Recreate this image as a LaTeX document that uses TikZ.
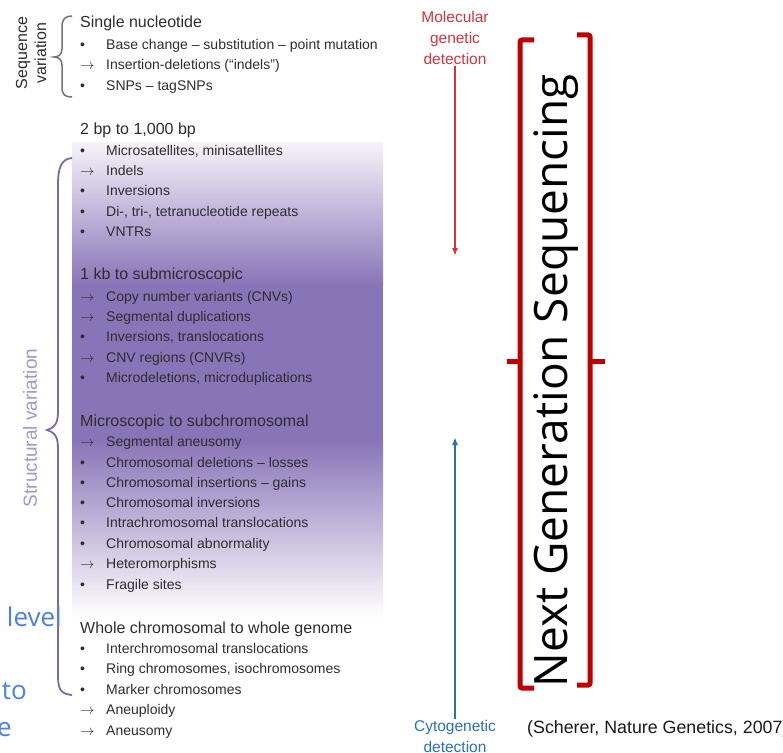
\documentclass[tikz,border=0pt]{standalone}
\usepackage{fontspec}
\setmainfont{Liberation Sans}
\newfontfamily\ngsfont{Open Sans}
\usetikzlibrary{arrows.meta}
\definecolor{ngsred}{RGB}{192,0,0}
\definecolor{molred}{RGB}{214,52,60}
\definecolor{cytoblue}{RGB}{40,112,184}
\definecolor{svpurple}{RGB}{138,116,184}
\definecolor{bracepurple}{RGB}{122,106,168}
\definecolor{labelpurple}{RGB}{165,150,200}
\definecolor{slideblue}{RGB}{74,128,232}
\definecolor{textgray}{RGB}{45,45,45}

\begin{document}
\begin{tikzpicture}[x=1pt, y=-1pt, >={Latex[length=8pt, width=6pt]},
    head/.style={anchor=base west, inner sep=0, text=textgray, font=\fontsize{16}{16}\selectfont},
    item/.style={anchor=base west, inner sep=0, text=textgray, font=\fontsize{14}{14}\selectfont},
    sym/.style={anchor=base west, inner sep=0, text=textgray, font=\fontsize{14}{14}\selectfont},
    detect/.style={align=center, inner sep=1pt, font=\fontsize{15.5}{21}\selectfont},
    slide/.style={anchor=base east, inner sep=0, text=slideblue, font=\ngsfont\fontsize{26}{26}\selectfont}]

    \useasboundingbox (0,0) rectangle (783,752);
    \clip (0,0) rectangle (783,752);

    % Purple background of the structural variation list
    \shade[top color=svpurple!8, bottom color=svpurple] (72,142) rectangle (383,285);
    \fill[svpurple] (72,285) rectangle (383,440);
    \shade[top color=svpurple, bottom color=white] (72,440) rectangle (383,618);

    % Sequence variation
    \node[head] at (80,28) (h1) {Single nucleotide};
    \foreach \y/\s/\t in {49/\textbullet/{Base change – substitution – point mutation},
                          69/{$\rightarrow$}/{Insertion-deletions (“indels”)},
                          90/\textbullet/{SNPs – tagSNPs}} {
        \node[sym] at (80,\y) (s\y) {\s};
        \node[item] at (106,\y) (t\y) {\t};
    }

    % 2 bp to 1,000 bp
    \node[head] at (80,134) (h2) {2 bp to 1,000 bp};
    \foreach \y/\s/\t in {155/\textbullet/{Microsatellites, minisatellites},
                          175/{$\rightarrow$}/{Indels},
                          195/\textbullet/{Inversions},
                          216/\textbullet/{Di-, tri-, tetranucleotide repeats},
                          236/\textbullet/{VNTRs}} {
        \node[sym] at (80,\y) (s\y) {\s};
        \node[item] at (106,\y) (t\y) {\t};
    }

    % 1 kb to submicroscopic
    \node[head] at (80,279) (h3) {1 kb to submicroscopic};
    \foreach \y/\s/\t in {301/{$\rightarrow$}/{Copy number variants (CNVs)},
                          321/{$\rightarrow$}/{Segmental duplications},
                          341/\textbullet/{Inversions, translocations},
                          362/{$\rightarrow$}/{CNV regions (CNVRs)},
                          382/\textbullet/{Microdeletions, microduplications}} {
        \node[sym] at (80,\y) (s\y) {\s};
        \node[item] at (106,\y) (t\y) {\t};
    }

    % Microscopic to subchromosomal
    \node[head] at (80,426) (h4) {Microscopic to subchromosomal};
    \foreach \y/\s/\t in {446/{$\rightarrow$}/{Segmental aneusomy},
                          467/\textbullet/{Chromosomal deletions – losses},
                          487/\textbullet/{Chromosomal insertions – gains},
                          507/\textbullet/{Chromosomal inversions},
                          527/\textbullet/{Intrachromosomal translocations},
                          548/\textbullet/{Chromosomal abnormality},
                          568/{$\rightarrow$}/{Heteromorphisms},
                          589/\textbullet/{Fragile sites}} {
        \node[sym] at (80,\y) (s\y) {\s};
        \node[item] at (106,\y) (t\y) {\t};
    }

    % Whole chromosomal to whole genome
    \node[head] at (80,633) (h5) {Whole chromosomal to whole genome};
    \foreach \y/\s/\t in {653/\textbullet/{Interchromosomal translocations},
                          673/\textbullet/{Ring chromosomes, isochromosomes},
                          694/\textbullet/{Marker chromosomes},
                          714/{$\rightarrow$}/{Aneuploidy},
                          735/{$\rightarrow$}/{Aneusomy}} {
        \node[sym] at (80,\y) (s\y) {\s};
        \node[item] at (106,\y) (t\y) {\t};
    }

    % Braces on the left
    \draw[black!55, line width=1.5] (72,16) .. controls (65,16) and (62,19) .. (62,27)
        -- (62,49) .. controls (62,55) and (58,57) .. (54,57)
        .. controls (58,57) and (62,59) .. (62,65) -- (62,87)
        .. controls (62,95) and (65,97) .. (72,97);
    \node[rotate=90, align=center, text=textgray, font=\fontsize{16}{19}\selectfont] at (31,53) (seqvar) {Sequence\\variation};

    \draw[bracepurple, line width=1.8] (72,158) .. controls (61,159) and (58,168) .. (58,185)
        -- (58,412) .. controls (58,424) and (54,428) .. (47,430)
        .. controls (54,432) and (58,436) .. (58,448) -- (58,675)
        .. controls (58,690) and (61,694) .. (72,695);
    \node[rotate=90, text=labelpurple, font=\fontsize{19}{19}\selectfont] at (30,428) (strvar) {Structural variation};

    % Cut-off slide text
    \node[slide] at (62,626) (lev) {level};
    \node[slide] at (27,699) (to) {to};
    \node[slide] at (12,736) (e) {e};

    % Detection arrows
    \node[detect, text=molred] at (455,38) (mol) {Molecular\\genetic\\detection};
    \coordinate (moltip) at (455,256);
    \draw[->, molred, line width=2.4] (mol.south) -- (moltip);

    \node[detect, text=cytoblue] at (455,736) (cyto) {Cytogenetic\\detection};
    \coordinate (cytotip) at (455,437);
    \draw[->, cytoblue, line width=2.4] (cyto.north) -- (cytotip);

    % Next Generation Sequencing bracket
    \node[rotate=90, anchor=base, inner sep=0, font=\ngsfont\fontsize{46}{46}\selectfont] at (567,381) (ngs) {Next Generation Sequencing};
    \draw[ngsred, line width=5, rounded corners=2] (534,40) -- (520,40) -- (520,688) -- (534,688);
    \draw[ngsred, line width=5] (520,361) -- (507,361);
    \draw[ngsred, line width=5, rounded corners=2] (577,35) -- (590,35) -- (590,685) -- (577,685);
    \draw[ngsred, line width=5] (590,361) -- (605,361);

    % Reference
    \node[anchor=base west, inner sep=0, text=black!90, font=\fontsize{17.8}{17.8}\selectfont] at (527,733) (ref) {(Scherer, Nature Genetics, 2007)};

\end{tikzpicture}
\end{document}
